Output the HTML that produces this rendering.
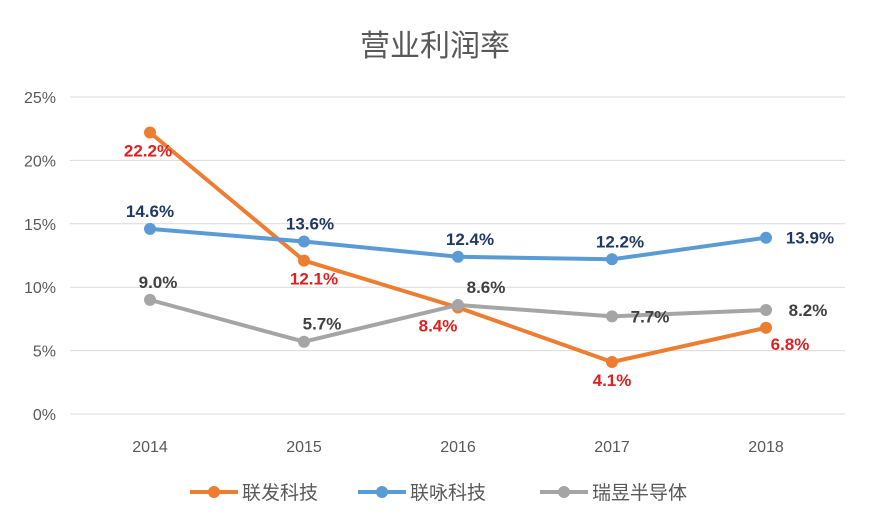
<!DOCTYPE html>
<html><head><meta charset="utf-8"><style>
body{margin:0;background:#fff;}
svg{display:block;font-family:"Liberation Sans","Noto Sans CJK SC",sans-serif;}
</style></head><body>
<svg id="c" width="871" height="529">
<text x="435" y="56" text-anchor="middle" font-size="30" fill="#595959">营业利润率</text>
</svg>
<script>
const years=["2014","2015","2016","2017","2018"];
const seriesNames=["联发科技","联咏科技","瑞昱半导体"];
const lianfa=[22.2,12.1,8.4,4.1,6.8];
const lianyong=[14.6,13.6,12.4,12.2,13.9];
const ruiyu=[9.0,5.7,8.6,7.7,8.2];
const yTicks=[0,5,10,15,20,25];
const colors=["#ed7d31","#5b9bd5","#a5a5a5"];
const labelColors=["#e02020","#1f3864","#404040"];
const offs=[[[-2,24],[10,24],[-20,24],[0,24],[24,22]],
 [[0,-12],[6,-12],[12,-12],[8,-12],[44,6]],
 [[8,-12],[18,-12],[28,-12],[38,6],[42,6]]];
const NS="http://www.w3.org/2000/svg",svg=document.getElementById('c');
const x=i=>150+i*154;
const y=v=>414-v*(317/25);
function el(t,a,p){const e=document.createElementNS(NS,t);for(const k in a)e.setAttribute(k,a[k]);(p||svg).appendChild(e);return e;}
yTicks.forEach(t=>{
 const g=el('line',{x1:70,x2:845,y1:y(t),y2:y(t),stroke:'#d9d9d9','stroke-width':1});
 
 
 const l=el('text',{x:56,y:y(t)+6,'text-anchor':'end','font-size':16,fill:'#595959'});
 l.textContent=t+'%';
 
 
});
years.forEach((yr,i)=>{
 const l=el('text',{x:x(i),y:452,'text-anchor':'middle','font-size':16,fill:'#595959'});
 l.textContent=yr;
 
 
});
[lianfa,lianyong,ruiyu].forEach((d,s)=>{
 const p=el('polyline',{points:d.map((v,i)=>x(i)+','+y(v)).join(' '),fill:'none',stroke:colors[s],'stroke-width':4,'stroke-linejoin':'round'});
 
 
 d.forEach((v,i)=>{
  const c=el('circle',{cx:x(i),cy:y(v),r:6,fill:colors[s]});
  
  
 });
});
[lianfa,lianyong,ruiyu].forEach((d,s)=>{
 d.forEach((v,i)=>{
  const t=el('text',{x:x(i)+offs[s][i][0],y:y(v)+offs[s][i][1],'text-anchor':'middle','font-size':17,'font-weight':'bold',fill:labelColors[s]});
  t.textContent=v.toFixed(1)+'%';
  
  
 });
});
const lx=[190,358,540];
seriesNames.forEach((n,s)=>{
 const g=el('g',{});
 
 
 el('line',{x1:lx[s],x2:lx[s]+48,y1:492,y2:492,stroke:colors[s],'stroke-width':4},g);
 el('circle',{cx:lx[s]+24,cy:492,r:6,fill:colors[s]},g);
 const t=el('text',{x:lx[s]+52,y:499,'font-size':19,fill:'#595959'},g);
 t.textContent=n;
});
</script>
</body></html>
